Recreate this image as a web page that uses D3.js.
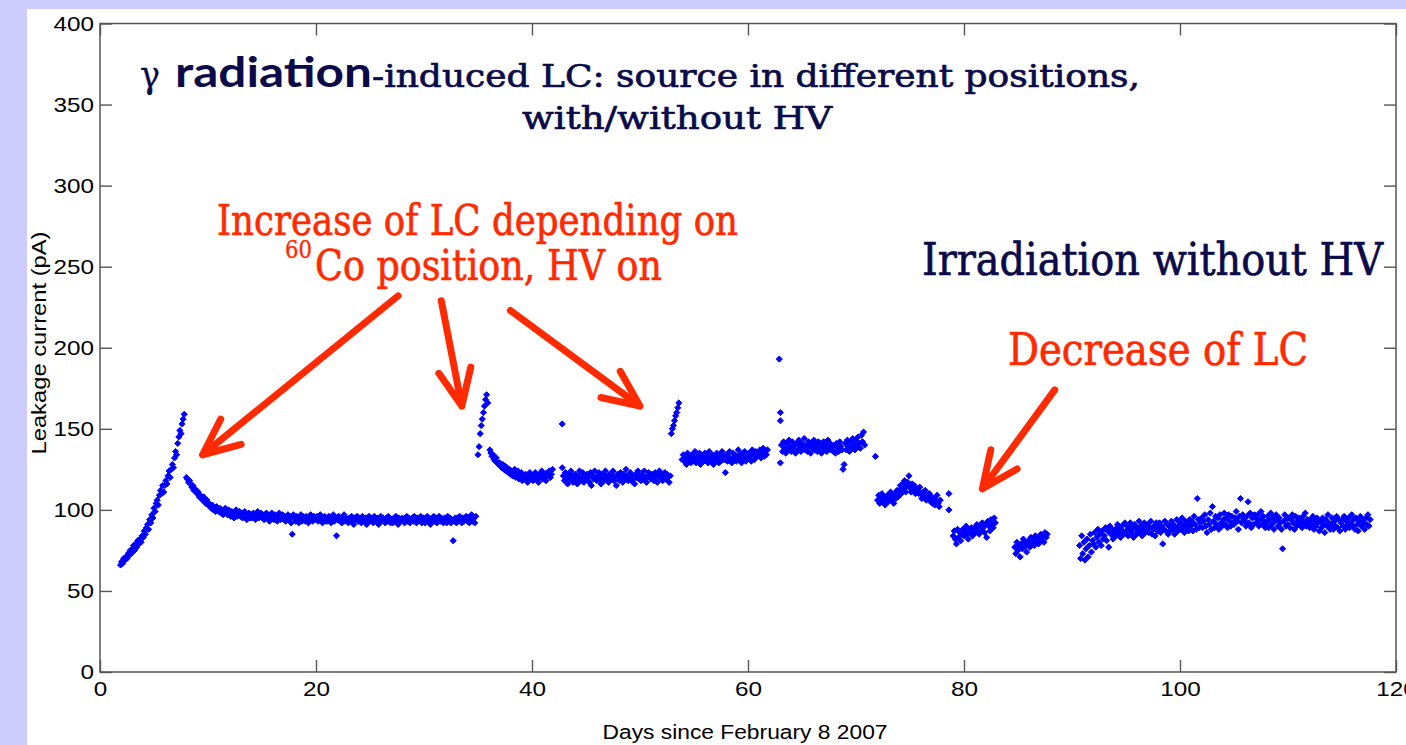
<!DOCTYPE html>
<html><head><meta charset="utf-8">
<script src="https://cdn.jsdelivr.net/npm/d3@7"></script>
<style>html,body{margin:0;padding:0;background:#ccccff;overflow:hidden}svg{display:block}</style>
</head><body><svg id="c" width="1406" height="745"></svg>
<script>
// ---------- tick labels ----------
const xTicks = [0, 20, 40, 60, 80, 100, 120];
const yTicks = [0, 50, 100, 150, 200, 250, 300, 350, 400];
const xLabel = "Days since February 8 2007";
const yLabel = "Leakage current (pA)";

// ---------- data: leakage current sampled every 0.1 day ----------
const sampleStep = 0.1;
const segStart = [1.9, 8.0, 35.0, 36.1, 42.8, 52.9, 53.9, 63.0, 72.0, 79.0, 84.7, 90.7];

const seg1 = [66,68,67,70,69,71,70,73,72,75, 73,76,78,75,79,77,81,79,82,80,
  84,83,87,85,89,91,88,94,92,97, 95,101,99,104,106,103,109,112,110,115,
  111,115,118,116,121,124,120,125,128,126, 132,136,134,141,145,149,147,153,156,159];
const seg2 = [120,119,117,118,116,114,115,112,113,111,
  110,111,108,109,107,106,108,105,104,106,
  103,104,102,101,103,100,101,99,102,100,
  99,101,98,100,97,99,101,98,97,100,
  98,96,99,97,95,98,100,96,97,99,
  96,98,95,97,99,96,94,97,98,95,
  97,95,98,96,94,97,99,95,96,98,
  95,97,94,96,98,95,97,93,96,98,
  96,94,97,95,93,96,98,94,95,97,
  94,96,93,95,97,94,96,92,85,97,
  95,93,96,94,92,95,97,93,96,94,
  93,96,94,92,95,97,94,93,96,95,
  94,96,93,95,97,94,92,95,96,93,
  95,93,96,94,92,95,97,93,95,84,
  94,96,93,95,92,94,97,93,95,94,
  92,95,94,96,93,91,95,94,96,93,
  95,93,92,96,94,93,95,91,94,96,
  93,95,94,92,96,93,94,95,91,94,
  96,93,95,94,92,95,93,96,94,92,
  94,92,95,93,96,94,91,95,93,94,
  95,93,92,94,96,93,95,92,94,95,
  93,96,94,92,95,93,94,96,92,94,
  95,92,94,96,93,95,91,94,93,96,
  93,95,92,94,96,93,95,94,92,95,
  94,92,96,93,95,92,94,81,93,95,
  92,95,93,96,94,92,95,93,94,96,
  93,95,92,94,97,93,95,92,96];
const seg3 = [134,139,147,152,156,160,164,168,171,166];
const seg4 = [137,135,133,134,131,130,132,129,128,
  129,127,126,128,125,127,124,126,123,125,
  122,124,121,123,125,120,122,124,119,121,
  123,118,121,120,122,119,117,121,123,119,
  121,118,120,123,119,121,117,122,120,124,
  119,122,120,118,123,121,124,120,122,125];
const seg5 = [126,121,
  118,123,120,116,122,119,124,121,117,120,
  122,119,116,121,124,118,120,123,117,121,
  119,122,120,117,123,115,121,119,124,120,
  118,121,123,119,116,122,120,118,124,121,
  120,117,122,119,121,124,118,120,115,122,
  121,118,123,120,117,122,119,125,121,118,
  120,123,118,121,119,116,122,120,124,119,
  121,118,122,120,124,119,117,121,123,120,
  119,122,120,118,123,121,117,120,124,122,
  120,118,121,123,119,122,120,117,121];
const seg6 = [147,150,152,155,158,160,163,166];
const seg7 = [131,
  134,130,132,128,135,131,133,129,134,130,
  132,136,129,133,131,135,128,134,132,130,
  135,131,133,129,136,132,130,134,128,133,
  131,135,132,129,134,130,136,133,131,123,
  134,130,133,136,131,129,135,132,134,130,
  133,137,131,134,129,135,132,136,130,134,
  132,135,133,130,137,134,131,136,133,135,
  134,137,132,135,138,133,136,134,137];
const seg8 = [129,140,136,142,138,135,141,137,143,139,
  136,142,138,140,135,141,137,143,139,136,
  141,138,144,137,140,136,142,139,135,141,
  138,143,137,140,136,142,138,141,135,139,
  142,137,140,136,143,138,141,137,139,136,
  140,135,141,138,136,142,139,137,125,128,
  141,137,143,139,136,142,138,144,140,137,
  143,139,145,141,138,146,142,148,140];
const seg9 = [106,109,104,107,110,105,108,103,107,109,
  105,108,111,106,109,104,110,107,112,108,
  112,115,110,116,113,118,111,115,117,114,
  114,111,116,112,115,110,113,112,110,114,
  110,107,111,108,112,106,109,107,110,105,
  108,104,107,103,106,109,104,102,106];
const seg10 = [84,87,82,79,88,83,86,81,85,88,
  84,87,90,85,82,88,86,89,84,87,
  89,86,91,88,85,90,87,92,89,86,
  91,83,93,90,87,94,91,89,95,92];
const seg11 = [77,73,80,
  75,78,71,79,76,82,77,80,74,79,
  81,77,83,79,82,78,84,80,83,79,
  82,85,81,84,80,86,83,85];
const seg12 = [78,70,84,
  73,80,69,76,82,71,78,85,74,81,
  79,86,77,83,88,80,85,78,87,82,
  84,89,81,87,77,90,85,88,82,86,
  88,84,91,86,89,83,90,87,85,92,
  87,90,84,88,92,86,89,83,91,88,
  85,89,93,87,90,84,88,92,86,89,
  91,86,89,93,85,88,90,84,92,87,
  89,92,86,90,79,88,93,87,91,85,
  90,87,93,88,91,85,89,94,87,90,
  92,88,95,90,86,93,89,91,87,94,
  90,93,87,96,91,88,107,94,89,92,
  95,89,93,97,90,86,94,91,98,88,
  102,93,89,96,91,95,88,97,92,90,
  94,98,91,95,89,97,93,90,96,92,
  91,95,99,93,88,96,107,92,97,94,
  93,90,96,105,92,98,89,95,91,97,
  95,92,97,90,94,99,91,96,93,89,
  92,96,89,94,98,91,95,88,93,97,
  94,90,95,92,88,76,93,97,90,95,
  91,95,89,94,97,92,88,96,90,93,
  95,91,94,89,96,92,98,90,94,91,
  89,94,91,96,88,93,90,95,92,87,
  93,89,95,91,86,94,90,97,92,88,
  91,95,88,93,90,96,89,94,87,92,
  94,90,96,88,93,91,95,89,92,97,
  90,94,88,95,91,87,93,96,90,94,
  92,88,95,91,97,90,94];
const segValues = [seg1, seg2, seg3, seg4, seg5, seg6, seg7, seg8, seg9, seg10, seg11, seg12];

// isolated readings
const isoDays   = [42.8, 62.9, 63.0, 63.0, 71.8, 74.9, 78.6, 78.6];
const isoValues = [153, 193, 160, 155, 133, 121, 110, 100];

// annotation arrows (data units): tail day/value -> tip day/value
const arrowTailDay = [27.6, 31.6, 38.0, 88.4];
const arrowTailVal = [232, 229, 223, 174];
const arrowTipDay  = [9.5, 33.5, 50.0, 81.7];
const arrowTipVal  = [134, 164, 164, 113];

// ---------- build ----------
const points = [];
segValues.forEach((vals, s) => vals.forEach((v, i) => points.push({d: segStart[s] + i * sampleStep, v})));
isoDays.forEach((d, i) => points.push({d, v: isoValues[i]}));

const svg = d3.select("#c");
const L = 100, R = 1396, T = 23.5, B = 672;
const x = d3.scaleLinear().domain([0, 120]).range([L, R]);
const y = d3.scaleLinear().domain([0, 400]).range([B, T]);

svg.append("rect").attr("x", 0).attr("y", 0).attr("width", 1406).attr("height", 745).attr("fill", "#ccccff");
svg.append("rect").attr("x", 27).attr("y", 9).attr("width", 1379).attr("height", 736).attr("fill", "#ffffff");

const axisColor = "#555";
function styleAxis(g) {
  g.select(".domain").remove();
  g.selectAll(".tick line").attr("stroke", axisColor).attr("stroke-width", 1.4);
  g.selectAll(".tick text").attr("fill", "#000").attr("font-family", "'Liberation Sans', Arial, sans-serif").attr("font-size", 21)
    .each(function () { const t = d3.select(this); t.attr("textLength", t.text().length * 13.5).attr("lengthAdjust", "spacingAndGlyphs"); });
}
svg.append("g").attr("transform", `translate(0,${B})`)
  .call(d3.axisBottom(x).tickValues(xTicks).tickSizeInner(-12).tickSizeOuter(0).tickPadding(9)).call(styleAxis);
svg.append("g").attr("transform", `translate(${L},0)`)
  .call(d3.axisLeft(y).tickValues(yTicks).tickSizeInner(-12).tickSizeOuter(0).tickPadding(6)).call(styleAxis);
svg.append("g").attr("transform", `translate(0,${T})`)
  .call(d3.axisTop(x).tickValues(xTicks).tickSizeInner(-12).tickSizeOuter(0).tickFormat("")).call(styleAxis);
svg.append("g").attr("transform", `translate(${R},0)`)
  .call(d3.axisRight(y).tickValues(yTicks).tickSizeInner(-12).tickSizeOuter(0).tickFormat("")).call(styleAxis);
svg.append("rect").attr("x", L).attr("y", T).attr("width", R - L).attr("height", B - T)
  .attr("fill", "none").attr("stroke", axisColor).attr("stroke-width", 1.5);

// axis titles
svg.append("text").attr("x", 745).attr("y", 739).attr("text-anchor", "middle")
  .attr("font-family", "'Liberation Sans', Arial, sans-serif").attr("font-size", 20).attr("fill", "#000")
  .attr("textLength", 285).attr("lengthAdjust", "spacingAndGlyphs").text(xLabel);
svg.append("text").attr("transform", "translate(46,343) rotate(-90)").attr("text-anchor", "middle")
  .attr("font-family", "'Liberation Sans', Arial, sans-serif").attr("font-size", 20).attr("fill", "#000")
  .attr("textLength", 223).attr("lengthAdjust", "spacingAndGlyphs").text(yLabel);

// data points
const sym = d3.symbol().type(d3.symbolDiamond2 || d3.symbolDiamond).size(24);
svg.append("g").selectAll("path").data(points).join("path")
  .attr("transform", p => `translate(${x(p.d)},${y(p.v)})`)
  .attr("d", sym).attr("fill", "#0000ff").attr("stroke", "#0000ff").attr("stroke-width", 1);

// annotation texts
const navy = "#0b0b4a", red = "#ff2a00";
const serif = "'DejaVu Serif', 'Liberation Serif', serif";
function txt(s, xx, yy, size, fill, len, family, weight, sw) {
  svg.append("text").attr("x", xx).attr("y", yy).attr("font-size", size).attr("fill", fill)
    .attr("stroke", fill).attr("stroke-width", sw === undefined ? 0.7 : sw)
    .attr("font-family", family || serif).attr("font-weight", weight || "normal")
    .attr("textLength", len).attr("lengthAdjust", "spacingAndGlyphs").text(s);
}
txt("\u03B3", 140, 87, 38, navy, 20, serif, "normal", 0.3);
txt("radiation", 175, 87, 42, navy, 197, "Lato, 'Noto Sans', sans-serif", "bold", 0);
txt("-induced LC: source in different positions,", 372, 87, 32, navy, 768);
txt("with/without HV", 522, 129, 32, navy, 310);
txt("Increase of LC depending on", 217, 235, 43, red, 521);
txt("60", 285, 258, 24, red, 27, serif, "normal", 0.4);
txt("Co position, HV on", 315, 280, 43, red, 347);
txt("Irradiation without HV", 922, 275, 45, navy, 461);
txt("Decrease of LC", 1008, 365, 45, red, 300);

// arrows
const arrowG = svg.append("g").attr("fill", "none").attr("stroke", red).attr("stroke-width", 7)
  .attr("stroke-linecap", "round").attr("stroke-linejoin", "round");
arrowTailDay.forEach((d, i) => {
  const x0 = x(d), y0 = y(arrowTailVal[i]), x1 = x(arrowTipDay[i]), y1 = y(arrowTipVal[i]);
  const a = Math.atan2(y0 - y1, x0 - x1), phi = 24 * Math.PI / 180, len = 40;
  const p = d3.path();
  p.moveTo(x0, y0); p.lineTo(x1, y1);
  p.moveTo(x1 + len * Math.cos(a + phi), y1 + len * Math.sin(a + phi));
  p.lineTo(x1, y1);
  p.lineTo(x1 + len * Math.cos(a - phi), y1 + len * Math.sin(a - phi));
  arrowG.append("path").attr("d", p.toString());
});
</script></body></html>
